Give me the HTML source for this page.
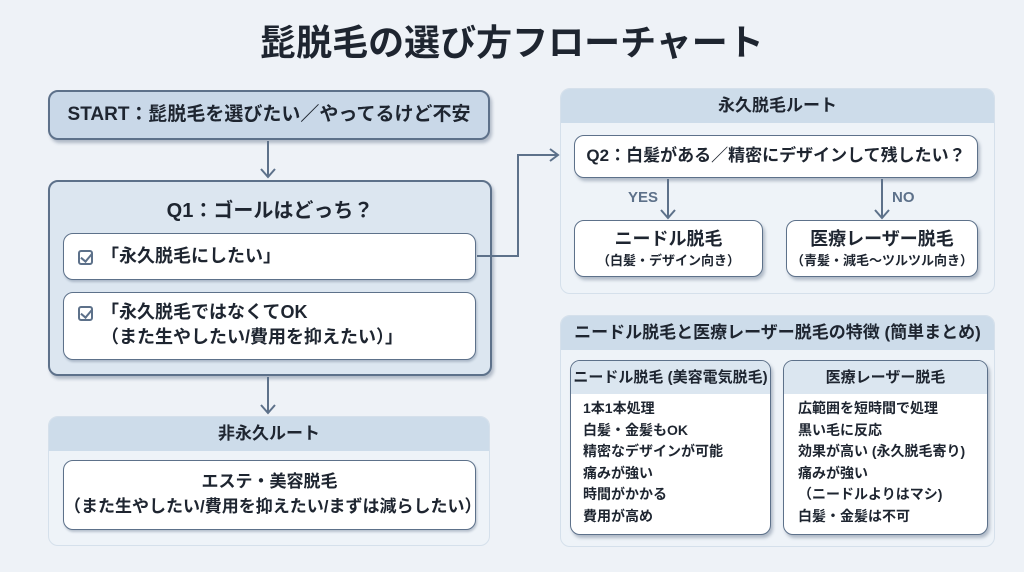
<!DOCTYPE html>
<html><head><meta charset="utf-8"><style>
*{box-sizing:border-box;margin:0;padding:0}
body{width:1024px;height:572px;background:#eef2f7;font-family:"Liberation Sans","Noto Sans CJK JP",sans-serif;color:#1e2530;position:relative;overflow:hidden;font-weight:bold}
.a{position:absolute}
.box{position:absolute;border:2px solid #5d718a;border-radius:10px;box-shadow:2px 3px 3px rgba(60,80,110,.35)}
.panel{position:absolute;border-radius:10px;background:#eef3f8;border:1px solid #d5e0eb;overflow:hidden}
.ph{background:#cddcea;text-align:center;font-size:17px;line-height:34px;height:34px}
.c{text-align:center}
.chk{display:inline-block;width:15px;height:15px;border:2px solid #5d718a;border-radius:3px;position:relative;vertical-align:middle;margin-right:8px}
.chk:after{content:"";position:absolute;left:3px;top:-1px;width:5px;height:9px;border:solid #5d718a;border-width:0 2px 2px 0;transform:rotate(40deg)}
</style></head><body>
<div class="a c" style="left:0;top:18px;width:1024px;font-size:36px;line-height:50px">髭脱毛の選び方フローチャート</div>

<div class="box" style="left:48px;top:90px;width:442px;height:50px;background:#c9d8e8;font-size:19px;line-height:46px;text-align:center">START：髭脱毛を選びたい／やってるけど不安</div>

<div class="box" style="left:48px;top:180px;width:444px;height:196px;background:#dce6f0"></div>
<div class="a c" style="left:48px;top:196px;width:444px;font-size:20px;line-height:30px">Q1：ゴールはどっち？</div>
<div class="box" style="left:63px;top:233px;width:413px;height:47px;background:#fff;border-width:1.5px;box-shadow:1px 2px 2px rgba(60,80,110,.3);font-size:18px;line-height:44px;padding-left:14px"><span class="chk"></span>「永久脱毛にしたい」</div>
<div class="box" style="left:63px;top:292px;width:413px;height:68px;background:#fff;border-width:1.5px;box-shadow:1px 2px 2px rgba(60,80,110,.3);font-size:18px;line-height:25px;padding:7px 0 0 14px"><span class="chk"></span>「永久脱毛ではなくてOK<br><span style="padding-left:23px">（また生やしたい/費用を抑えたい）」</span></div>

<div class="panel" style="left:48px;top:416px;width:442px;height:130px"><div class="ph">非永久ルート</div></div>
<div class="box" style="left:63px;top:460px;width:413px;height:70px;background:#fff;border-width:1.5px;box-shadow:1px 2px 2px rgba(60,80,110,.3);font-size:17px;line-height:25px;padding-top:8px;text-align:center">エステ・美容脱毛<br>（また生やしたい/費用を抑えたい/まずは減らしたい）</div>

<div class="panel" style="left:560px;top:88px;width:435px;height:206px"><div class="ph">永久脱毛ルート</div></div>
<div class="box" style="left:574px;top:135px;width:404px;height:43px;background:#fff;border-width:1.5px;font-size:17px;line-height:40px;text-align:center">Q2：白髪がある／精密にデザインして残したい？</div>
<div class="a" style="left:628px;top:189px;font-size:15px;color:#5d718a">YES</div>
<div class="a" style="left:892px;top:189px;font-size:15px;color:#5d718a">NO</div>
<div class="box" style="left:574px;top:220px;width:189px;height:57px;background:#fff;border-width:1.5px;text-align:center;padding-top:7px"><div style="font-size:18px;line-height:23px">ニードル脱毛</div><div style="font-size:13px;line-height:19px">（白髪・デザイン向き）</div></div>
<div class="box" style="left:786px;top:220px;width:192px;height:57px;background:#fff;border-width:1.5px;text-align:center;padding-top:7px"><div style="font-size:18px;line-height:23px">医療レーザー脱毛</div><div style="font-size:13px;line-height:19px;white-space:nowrap">（青髪・減毛〜ツルツル向き）</div></div>

<div class="panel" style="left:560px;top:315px;width:435px;height:232px"><div class="ph">ニードル脱毛と医療レーザー脱毛の特徴 (簡単まとめ)</div></div>
<div class="box" style="left:570px;top:360px;width:201px;height:175px;background:#fff;border-width:1.5px;overflow:hidden"><div style="background:#dbe6f0;height:33px;line-height:33px;font-size:15px;text-align:center;white-space:nowrap">ニードル脱毛 (美容電気脱毛)</div><div style="font-size:14px;line-height:21.5px;padding:4px 0 0 12px">1本1本処理<br>白髪・金髪もOK<br>精密なデザインが可能<br>痛みが強い<br>時間がかかる<br>費用が高め</div></div>
<div class="box" style="left:783px;top:360px;width:205px;height:175px;background:#fff;border-width:1.5px;overflow:hidden"><div style="background:#dbe6f0;height:33px;line-height:33px;font-size:15px;text-align:center">医療レーザー脱毛</div><div style="font-size:14px;line-height:21.5px;padding:4px 0 0 14px;white-space:nowrap">広範囲を短時間で処理<br>黒い毛に反応<br>効果が高い (永久脱毛寄り)<br>痛みが強い<br>（ニードルよりはマシ)<br>白髪・金髪は不可</div></div>

<svg class="a" style="left:0;top:0" width="1024" height="572">
<g stroke="#5d718a" stroke-width="2" fill="none">
<path d="M268 141V177M261 169l7 8 7-8"/>
<path d="M268 377V413M261 405l7 8 7-8"/>
<path d="M477 256H518V155H558M550 149l8 6-8 6"/>
<path d="M668 179V218M661 210l7 8 7-8"/>
<path d="M882 179V218M875 210l7 8 7-8"/>
</g></svg>
</body></html>
